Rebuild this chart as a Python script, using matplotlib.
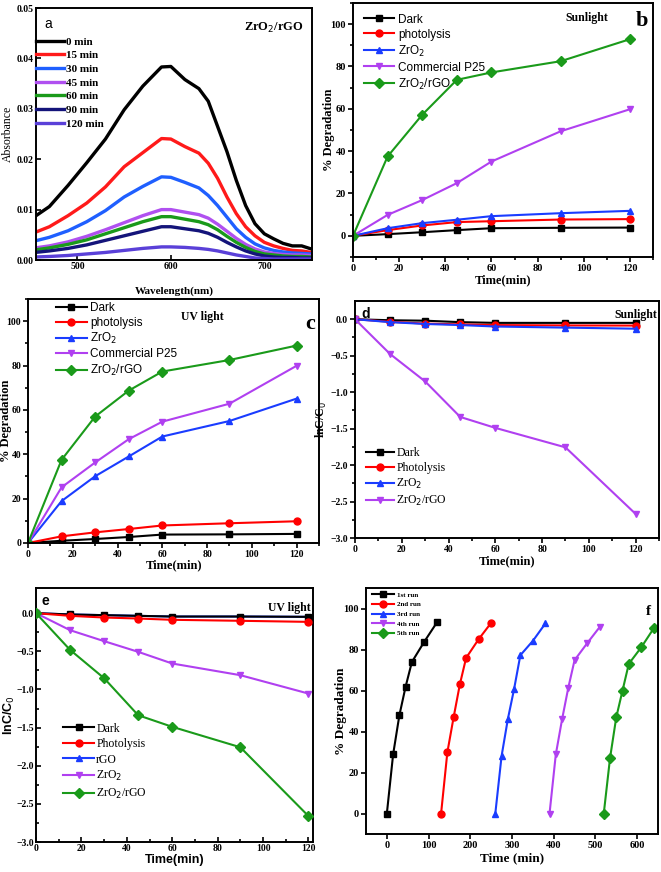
import matplotlib
matplotlib.use('Agg')
from matplotlib import pyplot as plt

# ---- panel a: absorbance spectra ----
wavelength = [455, 470, 490, 510, 530, 550, 570, 590, 600, 615, 630, 640, 650, 660, 670, 680, 690, 700, 710, 720, 730, 740, 750]
spec_labels = ['0 min', '15 min', '30 min', '45 min', '60 min', '90 min', '120 min']
abs_0 = [.0087, .0106, .0148, .0193, .0240, .0298, .0345, .0383, .0384, .0358, .0340, .0315, .0265, .0215, .0158, .0108, .0072, .0052, .0042, .0033, .0028, .0028, .0022]
abs_15 = [.0055, .0066, .0088, .0113, .0145, .0185, .0213, .0241, .0240, .0225, .0212, .0192, .0162, .0125, .0092, .0066, .0048, .0035, .0028, .0023, .0019, .0018, .0015]
abs_30 = [.0038, .0045, .0058, .0076, .0098, .0125, .0146, .0165, .0164, .0154, .0143, .0128, .0108, .0085, .0062, .0045, .0032, .0024, .0019, .0016, .0014, .0013, .0012]
abs_45 = [.0024, .0028, .0036, .0047, .0060, .0074, .0088, .0100, .0100, .0095, .0090, .0083, .0071, .0057, .0043, .0031, .0022, .0016, .0013, .0011, .0010, .0010, .0009]
abs_60 = [.0020, .0024, .0031, .0040, .0052, .0064, .0076, .0086, .0086, .0081, .0076, .0070, .0060, .0047, .0035, .0025, .0017, .0012, .0010, .0008, .0007, .0007, .0006]
abs_90 = [.0015, .0018, .0023, .0030, .0039, .0048, .0057, .0066, .0066, .0062, .0058, .0053, .0045, .0035, .0026, .0018, .0012, .0008, .0006, .0005, .0005, .0004, .0004]
abs_120 = [.0006, .0007, .0009, .0012, .0015, .0019, .0023, .0026, .0026, .0025, .0023, .0021, .0018, .0014, .0010, .0007, .0004, .0003, .0002, .0002, .0002, .0002, .0002]
spec_colors = ['#000000', '#ff1a1a', '#1f5fff', '#b050f0', '#1a9a1a', '#14147a', '#5a40d8']

# ---- panels b-e: kinetics ----
time = [0, 15, 30, 45, 60, 90, 120]
sun_labels = ['Dark', 'photolysis', 'ZrO$_2$', 'Commercial P25', 'ZrO$_2$/rGO']
sun_dark = [0, 0.8, 1.7, 2.7, 3.6, 3.8, 3.9]
sun_photo = [0, 2.7, 4.9, 6.5, 6.9, 7.7, 7.9]
sun_zro2 = [0, 3.6, 6.0, 7.6, 9.3, 10.7, 11.8]
sun_p25 = [0, 9.9, 16.9, 24.9, 35.1, 49.4, 59.8]
sun_comp = [0, 37.5, 57.2, 73.7, 77.2, 82.5, 92.9]

uv_dark = [0, 1.0, 1.8, 2.7, 3.8, 3.9, 4.1]
uv_photo = [0, 3.0, 4.8, 6.3, 7.9, 8.9, 9.8]
uv_zro2 = [0, 18.9, 30.1, 39.0, 48.0, 55.0, 65.1]
uv_p25 = [0, 25.1, 36.3, 46.8, 54.7, 62.8, 79.9]
uv_comp = [0, 37.5, 57.0, 68.7, 77.3, 82.5, 89.0]

ln_sun_labels = ['Dark', 'Photolysis', 'ZrO$_2$', 'ZrO$_2$/rGO']
ln_sun_dark = [0, -0.014, -0.02, -0.04, -0.05, -0.05, -0.05]
ln_sun_photo = [0, -0.035, -0.06, -0.07, -0.08, -0.085, -0.087]
ln_sun_zro2 = [0, -0.04, -0.065, -0.08, -0.10, -0.115, -0.13]
ln_sun_comp = [0, -0.477, -0.853, -1.34, -1.49, -1.757, -2.67]

ln_uv_labels = ['Dark', 'Photolysis', 'rGO', 'ZrO$_2$', 'ZrO$_2$/rGO']
ln_uv_dark = [0, -0.017, -0.026, -0.035, -0.044, -0.044, -0.048]
ln_uv_photo = [0, -0.035, -0.057, -0.07, -0.087, -0.10, -0.114]
ln_uv_rgo = [0, -0.017, -0.026, -0.035, -0.044, -0.044, -0.048]
ln_uv_zro2 = [0, -0.223, -0.367, -0.507, -0.66, -0.813, -1.054]
ln_uv_comp = [0, -0.481, -0.853, -1.338, -1.49, -1.758, -2.66]

# ---- panel f: recycling ----
run_labels = ['1st run', '2nd run', '3rd run', '4th run', '5th run']
run1_t = [0, 15, 30, 45, 60, 90, 120]
run1_d = [0, 28.8, 47.9, 61.9, 73.9, 83.9, 93.2]
run2_t = [130, 145, 160, 175, 190, 220, 250]
run2_d = [0, 29.8, 46.9, 63.0, 75.9, 85.0, 93.0]
run3_t = [260, 275, 290, 305, 320, 350, 380]
run3_d = [0, 28.0, 46.0, 60.7, 77.2, 84.2, 92.7]
run4_t = [390, 405, 420, 435, 450, 480, 510]
run4_d = [0, 28.8, 45.9, 61.4, 74.8, 83.0, 90.9]
run5_t = [520, 535, 550, 565, 580, 610, 640]
run5_d = [0, 27.0, 47.0, 60.0, 73.0, 81.1, 90.4]

colors = ['#000000', '#ff0000', '#1a3cff', '#b040f0', '#1a9a1a']
markers = ['s', 'o', '^', 'v', 'D']

SERIF = 'Liberation Serif'
SANS = 'Liberation Sans'
W, H = 661, 872


def box(l, t, r, b):
    return [l / W, 1 - b / H, (r - l) / W, (b - t) / H]


def style(ax, direction, size=8):
    for s in ax.spines.values():
        s.set_linewidth(1.4)
    ax.tick_params(which='both', direction=direction, width=1.2, top=False, right=False, pad=1.5)
    ax.tick_params(which='major', length=3.5)
    ax.tick_params(which='minor', length=2.2)
    for lab in ax.get_xticklabels() + ax.get_yticklabels():
        lab.set_fontfamily(SERIF)
        lab.set_fontweight('bold')
        lab.set_fontsize(size)


fig = plt.figure(figsize=(6.61, 8.72), dpi=100)

# a
ax = fig.add_axes(box(36, 8, 312, 260))
spectra = [abs_0, abs_15, abs_30, abs_45, abs_60, abs_90, abs_120]
for ys, c, lab in zip(spectra, spec_colors, spec_labels):
    ax.plot(wavelength, ys, color=c, lw=2.4, label=lab)
ax.set_xlim(455.7, 751)
ax.set_ylim(0, 0.05)
ax.set_xticks([500, 600, 700])
ax.set_yticks([0, 0.01, 0.02, 0.03, 0.04, 0.05])
ax.set_yticklabels(['0.00', '0.01', '0.02', '0.03', '0.04', '0.05'])
style(ax, 'in', 7)
ax.set_xlabel('Wavelength(nm)', fontfamily=SERIF, fontweight='bold', fontsize=8, labelpad=11)
ax.set_ylabel('Absorbance', fontfamily=SERIF, fontsize=8.5)
ax.yaxis.set_label_coords(-0.08, 0.5)
ax.text(0.03, 0.965, 'a', transform=ax.transAxes, fontfamily=SANS, fontsize=10, va='top')
ax.text(0.97, 0.95, 'ZrO$_2$/rGO', transform=ax.transAxes, fontfamily=SERIF, fontweight='bold',
        fontsize=9, ha='right', va='top')
ax.legend(loc='upper left', bbox_to_anchor=(-0.035, 0.925), frameon=False, handlelength=2.5,
          handletextpad=0.2, labelspacing=0.35, prop={'family': SERIF, 'weight': 'bold', 'size': 8})


def kinetics(ax, series, labels, legend_prop, legend_kw):
    for i, (ys, lab) in enumerate(zip(series, labels)):
        ax.plot(time, ys, color=colors[i], marker=markers[i], ms=5, lw=1.5, label=lab)
    ax.legend(frameon=False, prop=legend_prop, **legend_kw)


# b
ax = fig.add_axes(box(353, 3, 653, 257))
kinetics(ax, [sun_dark, sun_photo, sun_zro2, sun_p25, sun_comp], sun_labels,
         {'family': SANS, 'size': 8.5},
         dict(loc='upper left', bbox_to_anchor=(0.0, 1.0), handlelength=2.6, handletextpad=0.3, labelspacing=0.25))
ax.set_xlim(0, 130)
ax.set_ylim(-10, 110)
ax.set_xticks(range(0, 121, 20))
ax.set_xticks(range(10, 131, 10), minor=True)
ax.set_yticks(range(0, 101, 20))
ax.set_yticks(range(-10, 111, 10), minor=True)
style(ax, 'out', 7.5)
ax.set_xlabel('Time(min)', fontfamily=SERIF, fontweight='bold', fontsize=9, labelpad=1)
ax.set_ylabel('% Degradation', fontfamily=SERIF, fontweight='bold', fontsize=9)
ax.yaxis.set_label_coords(-0.06, 0.5)
ax.text(0.78, 0.965, 'Sunlight', transform=ax.transAxes, fontfamily=SERIF, fontweight='bold',
        fontsize=8.5, ha='center', va='top')
ax.text(0.985, 0.97, 'b', transform=ax.transAxes, fontfamily=SERIF, fontweight='bold',
        fontsize=16, ha='right', va='top')

# c
ax = fig.add_axes(box(28, 299, 319, 543))
kinetics(ax, [uv_dark, uv_photo, uv_zro2, uv_p25, uv_comp], sun_labels,
         {'family': SANS, 'size': 8.5},
         dict(loc='upper left', bbox_to_anchor=(0.06, 1.03), handlelength=2.6, handletextpad=0.3, labelspacing=0.2))
ax.set_xlim(0, 130)
ax.set_ylim(0, 110)
ax.set_xticks(range(0, 121, 20))
ax.set_xticks(range(10, 131, 10), minor=True)
ax.set_yticks(range(0, 101, 20))
ax.set_yticks(range(10, 111, 10), minor=True)
style(ax, 'out', 7)
ax.set_xlabel('Time(min)', fontfamily=SERIF, fontweight='bold', fontsize=9, labelpad=0)
ax.set_ylabel('% Degradation', fontfamily=SERIF, fontweight='bold', fontsize=9)
ax.yaxis.set_label_coords(-0.055, 0.5)
ax.text(0.6, 0.95, 'UV light', transform=ax.transAxes, fontfamily=SERIF, fontweight='bold',
        fontsize=8.5, ha='center', va='top')
ax.text(0.985, 0.94, 'c', transform=ax.transAxes, fontfamily=SERIF, fontweight='bold',
        fontsize=16, ha='right', va='top')

# d
ax = fig.add_axes(box(355, 301, 659, 538))
for i, ys in enumerate([ln_sun_dark, ln_sun_photo, ln_sun_zro2]):
    ax.plot(time, ys, color=colors[i], marker=markers[i], ms=5, lw=1.5, label=ln_sun_labels[i])
ax.plot(time, ln_sun_comp, color=colors[3], marker='v', ms=5, lw=1.5, label=ln_sun_labels[3])
ax.legend(loc='lower left', bbox_to_anchor=(0.0, 0.08), frameon=False, handlelength=2.4,
          handletextpad=0.2, labelspacing=0.25, prop={'family': SERIF, 'size': 8.5})
ax.set_xlim(0, 130)
ax.set_ylim(-3, 0.25)
ax.set_xticks(range(0, 121, 20))
ax.set_xticks(range(10, 131, 10), minor=True)
ax.set_yticks([-3, -2.5, -2, -1.5, -1, -0.5, 0])
ax.set_yticks([-2.75, -2.25, -1.75, -1.25, -0.75, -0.25], minor=True)
style(ax, 'out', 7)
ax.set_xlabel('Time(min)', fontfamily=SERIF, fontweight='bold', fontsize=9, labelpad=1)
ax.set_ylabel('lnC/C$_0$', fontfamily=SERIF, fontweight='bold', fontsize=8.5)
ax.yaxis.set_label_coords(-0.087, 0.5)
ax.text(0.02, 0.975, 'd', transform=ax.transAxes, fontfamily=SANS, fontweight='bold',
        fontsize=10, va='top')
ax.text(0.995, 0.965, 'Sunlight', transform=ax.transAxes, fontfamily=SERIF, fontweight='bold',
        fontsize=8.5, ha='right', va='top')

# e
ax = fig.add_axes(box(36, 588, 313, 842))
ln_uv = [ln_uv_dark, ln_uv_photo, ln_uv_rgo, ln_uv_zro2, ln_uv_comp]
e_z = [3, 4, 1, 5, 6]
for ys, c, m, z, lab in zip(ln_uv, colors, markers, e_z, ln_uv_labels):
    ax.plot(time, ys, color=c, marker=m, ms=5, lw=1.5, label=lab, zorder=z)
ax.legend(loc='lower left', bbox_to_anchor=(0.06, 0.12), frameon=False, handlelength=2.6,
          handletextpad=0.2, labelspacing=0.3, prop={'family': SERIF, 'size': 8.5})
ax.set_xlim(0, 122)
ax.set_ylim(-3, 0.33)
ax.set_xticks(range(0, 121, 20))
ax.set_xticks(range(10, 121, 10), minor=True)
ax.set_yticks([-3, -2.5, -2, -1.5, -1, -0.5, 0])
ax.set_yticks([-2.75, -2.25, -1.75, -1.25, -0.75, -0.25], minor=True)
style(ax, 'in', 7)
ax.set_xlabel('Time(min)', fontfamily=SANS, fontweight='bold', fontsize=9, labelpad=1)
ax.set_ylabel('lnC/C$_0$', fontfamily=SANS, fontweight='bold', fontsize=9)
ax.yaxis.set_label_coords(-0.07, 0.5)
ax.text(0.02, 0.975, 'e', transform=ax.transAxes, fontfamily=SANS, fontweight='bold',
        fontsize=10, va='top')
ax.text(0.99, 0.945, 'UV light', transform=ax.transAxes, fontfamily=SERIF, fontweight='bold',
        fontsize=8.5, ha='right', va='top')

# f
ax = fig.add_axes(box(366, 588, 658, 834))
runs = [(run1_t, run1_d), (run2_t, run2_d), (run3_t, run3_d), (run4_t, run4_d), (run5_t, run5_d)]
for i, (t, d) in enumerate(runs):
    ax.plot(t, d, color=colors[i], marker=markers[i], ms=5, lw=1.5, label=run_labels[i])
ax.legend(loc='upper left', bbox_to_anchor=(0.0, 1.01), frameon=False, handlelength=3.2,
          handletextpad=0.3, labelspacing=0.55, prop={'family': SERIF, 'weight': 'bold', 'size': 5})
ax.set_xlim(-50, 650)
ax.set_ylim(-10, 110)
ax.set_xticks(range(0, 601, 100))
ax.set_yticks(range(0, 101, 20))
style(ax, 'out', 7.5)
ax.set_xlabel('Time (min)', fontfamily=SERIF, fontweight='bold', fontsize=9.5, labelpad=2)
ax.set_ylabel('% Degradation', fontfamily=SERIF, fontweight='bold', fontsize=9.5)
ax.yaxis.set_label_coords(-0.065, 0.5)
ax.text(0.975, 0.93, 'f', transform=ax.transAxes, fontfamily=SERIF, fontweight='bold',
        fontsize=11, ha='right', va='top')

fig.savefig('out.png', dpi=100)
